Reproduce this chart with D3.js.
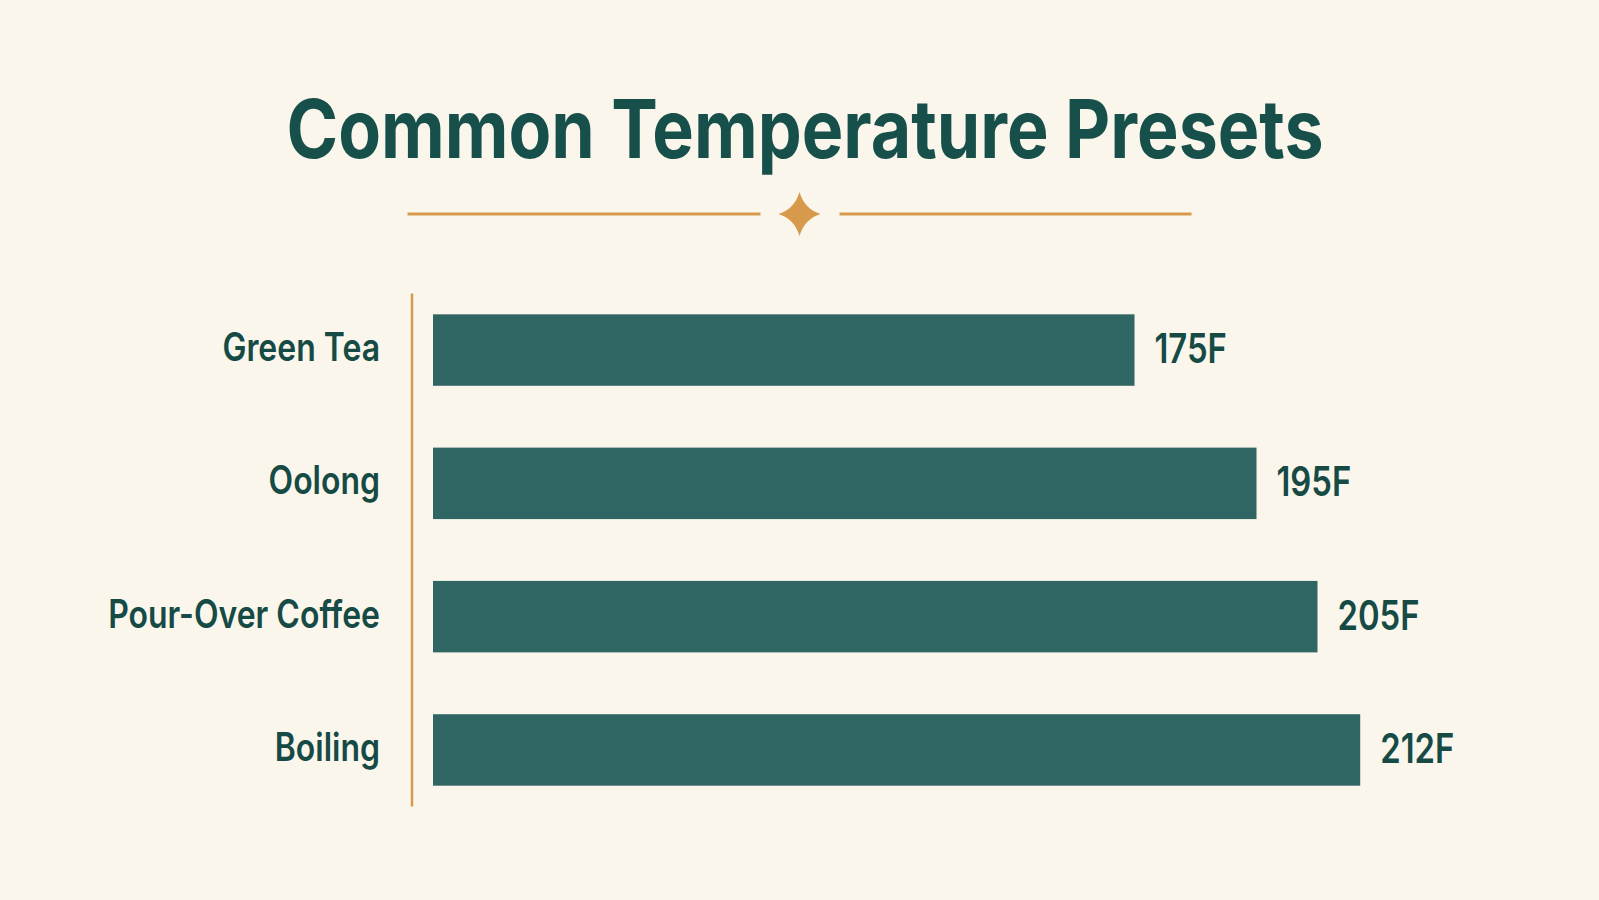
<!DOCTYPE html>
<html>
<head>
<meta charset="utf-8">
<script src="https://cdn.jsdelivr.net/npm/d3@7"></script>
<style>
  html, body { margin: 0; padding: 0; background: #FAF6EC; }
  svg { display: block; }
</style>
</head>
<body>
<svg id="chart" width="1599" height="900"></svg>
<script>
// ---- data ----
const categories = ["Green Tea", "Oolong", "Pour-Over Coffee", "Boiling"];
const temperatures = [175, 195, 205, 212];
const valueLabels = ["175F", "195F", "205F", "212F"];
const titleText = "Common Temperature Presets";

// ---- styles ----
const W = 1599, H = 900;
const colors = {
  bg: "#FAF6EC",
  title: "#17504A",
  bar: "#2F6562",
  label: "#164A45",
  accent: "#D79A4C"
};
const FONT = "Inter, 'Noto Sans', sans-serif";

const svg = d3.select("#chart");
svg.append("rect").attr("width", W).attr("height", H).attr("fill", colors.bg);

// condensed text helper: horizontally squeeze text around its anchor
function condensedText(g, x, y, text, opts) {
  const t = g.append("g").attr("transform", `translate(${x},${y}) scale(${opts.sx},1)`)
    .append("text")
    .attr("x", 0).attr("y", 0)
    .attr("text-anchor", opts.anchor)
    .attr("font-family", FONT)
    .attr("font-weight", opts.weight)
    .attr("font-size", opts.size)
    .attr("fill", opts.fill)
    .text(text);
  return t;
}

// ---- title ----
condensedText(svg, 805, 158, titleText, {sx: 0.862, anchor: "middle", weight: 700, size: 81, fill: colors.title});

// ---- ornament ----
const orn = svg.append("g").attr("transform", "translate(799.5,214)");
orn.append("line").attr("x1", -392).attr("x2", -39).attr("y1", 0).attr("y2", 0)
  .attr("stroke", colors.accent).attr("stroke-width", 3);
orn.append("line").attr("x1", 40).attr("x2", 392).attr("y1", 0).attr("y2", 0)
  .attr("stroke", colors.accent).attr("stroke-width", 3);
orn.append("path")
  .attr("d", "M0,-22 Q5,-5 21,0 Q5,5 0,22 Q-5,5 -21,0 Q-5,-5 0,-22Z")
  .attr("fill", colors.accent);

// ---- scales ----
const y = d3.scaleBand()
  .domain(categories)
  .range([283.4, 816.6])
  .paddingInner(0.464)
  .paddingOuter(0.232);

const x = d3.scaleLinear()
  .domain([60, 215])
  .range([433, 1378.5]);

// ---- axis line ----
svg.append("line")
  .attr("x1", 412).attr("x2", 412)
  .attr("y1", y.range()[0] + 10).attr("y2", y.range()[1] - 10)
  .attr("stroke", colors.accent).attr("stroke-width", 2.5);

// ---- bars ----
const data = categories.map((c, i) => ({cat: c, v: temperatures[i], lab: valueLabels[i]}));

svg.append("g").selectAll("rect").data(data).join("rect")
  .attr("x", x.range()[0])
  .attr("y", d => y(d.cat))
  .attr("width", d => x(d.v) - x.range()[0])
  .attr("height", y.bandwidth())
  .attr("fill", colors.bar);

// ---- category labels ----
const catG = svg.append("g");
data.forEach(d => {
  condensedText(catG, 380, y(d.cat) + y.bandwidth() / 2 + 11, d.cat,
    {sx: 0.82, anchor: "end", weight: 600, size: 39, fill: colors.label});
});

// ---- value labels ----
const valG = svg.append("g");
data.forEach(d => {
  condensedText(valG, x(d.v) + 20, y(d.cat) + y.bandwidth() / 2 + 13, d.lab,
    {sx: 0.8, anchor: "start", weight: 600, size: 41, fill: colors.label});
});
</script>
</body>
</html>
